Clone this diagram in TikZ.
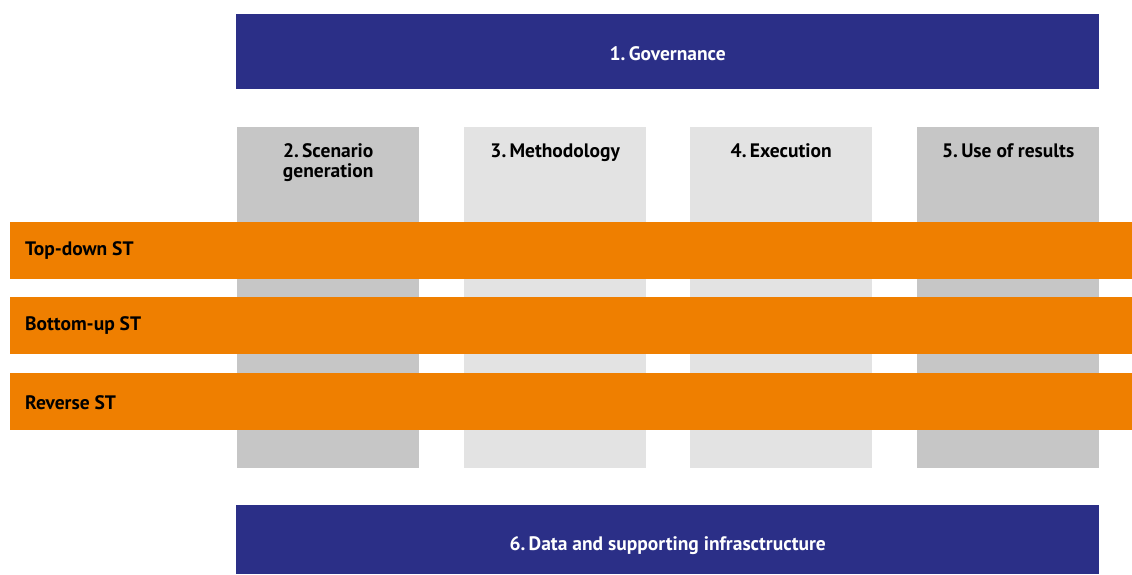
\documentclass[tikz,border=0pt]{standalone}
\usepackage{fontspec}
\setmainfont{PT Sans}
\definecolor{navy}{HTML}{2B2F87}
\definecolor{darkgray}{HTML}{C6C6C6}
\definecolor{lightgray}{HTML}{E3E3E3}
\definecolor{orangebar}{HTML}{EF7F00}
\begin{document}
\begin{tikzpicture}[x=1pt,y=-1pt,
  lbl/.style={font=\fontsize{19.5}{20}\selectfont\bfseries,inner sep=0pt},
  collbl/.style={lbl,align=center,anchor=base},
  navybox/.style={fill=navy,draw=none,inner sep=0pt,anchor=north west},
  colbox/.style={draw=none,inner sep=0pt,anchor=north west,minimum width=182pt,minimum height=341pt},
  barbox/.style={fill=orangebar,draw=none,inner sep=0pt,anchor=north west,minimum width=1122pt,minimum height=57pt}]
\useasboundingbox (0,0) rectangle (1132,574);
% governance
\node[navybox,minimum width=863pt,minimum height=75pt] (gov) at (236,14) {};
\node[lbl,text=white] (govt) at ([yshift=-1.5pt]gov.center) {1.\,Governance};
% columns
\node[colbox,fill=darkgray] (c2) at (237,127) {};
\node[colbox,fill=lightgray] (c3) at (464,127) {};
\node[colbox,fill=lightgray] (c4) at (690,127) {};
\node[colbox,fill=darkgray] (c5) at (917,127) {};
\node[collbl] (c2t) at ([yshift=-50pt]c2.north) {2.\,Scenario\\generation};
\node[collbl] (c3t) at ([yshift=-30pt]c3.north) {3.\,Methodology};
\node[collbl] (c4t) at ([yshift=-30pt]c4.north) {4.\,Execution};
\node[collbl] (c5t) at ([yshift=-30pt]c5.north) {5.\,Use of results};
% bars
\node[barbox] (b1) at (10,222) {};
\node[barbox] (b2) at (10,297) {};
\node[barbox] (b3) at (10,373) {};
\node[lbl,anchor=west] (b1t) at ([xshift=15pt]b1.west) {Top-down ST};
\node[lbl,anchor=west] (b2t) at ([xshift=15pt]b2.west) {Bottom-up ST};
\node[lbl,anchor=west] (b3t) at ([xshift=15pt,yshift=-1pt]b3.west) {Reverse ST};
% data
\node[navybox,minimum width=863pt,minimum height=69pt] (data) at (236,505) {};
\node[lbl,text=white] (datat) at ([yshift=-6pt]data.center) {6.\,Data and supporting infrasctructure};
\end{tikzpicture}
\end{document}
